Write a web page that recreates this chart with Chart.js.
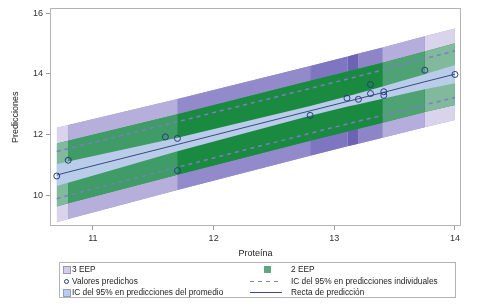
<!DOCTYPE html>
<html lang="es">
<head>
  <meta charset="UTF-8" />
  <title>Predicciones frente a Proteína</title>
  <script src="https://cdn.jsdelivr.net/npm/chart.js"></script>
  <style>
    body {
      margin: 0;
      background: #fff;
      font-family: 'Liberation Sans', Arial, sans-serif;
    }
    .wrap {
      position: relative;
      width: 480px;
      height: 308px;
    }
    .legend {
      position: absolute;
      left: 59px;
      top: 262px;
      width: 395px;
      height: 34px;
      border: 1px solid #b4b4b4;
      font-size: 8.3px;
      color: #222;
    }
    .item {
      position: absolute;
      height: 11px;
      line-height: 11px;
      white-space: nowrap;
    }
    .sym {
      position: absolute;
      box-sizing: border-box;
    }
    .txt {
      position: absolute;
      top: 0;
    }
  </style>
</head>
<body>
  <div class="wrap">
    <canvas id="fitChart"></canvas>
    <div class="legend">
      <div class="item" style="left:0;top:1px">
        <span class="sym" style="left:3px;top:2px;width:8px;height:8px;background:#d3cdea;border:1px solid #9a96b8"></span>
        <span class="txt" style="left:12px">3 EEP</span>
      </div>
      <div class="item" style="left:0;top:1px">
        <span class="sym" style="left:204px;top:2px;width:7px;height:7px;background:#5fa882"></span>
        <span class="txt" style="left:231px">2 EEP</span>
      </div>
      <div class="item" style="left:0;top:12.5px">
        <span class="sym" style="left:4px;top:3px;width:5px;height:5px;border:1px solid #2a3a80;border-radius:50%"></span>
        <span class="txt" style="left:12px">Valores predichos</span>
      </div>
      <div class="item" style="left:0;top:12.5px">
        <svg class="sym" style="left:190px;top:0" width="32" height="11"><line x1="0" y1="5.5" x2="32" y2="5.5" stroke="#7f7acb" stroke-width="1" stroke-dasharray="4 4"/></svg>
        <span class="txt" style="left:231px">IC del 95% en predicciones individuales</span>
      </div>
      <div class="item" style="left:0;top:24px">
        <span class="sym" style="left:3px;top:2px;width:8px;height:8px;background:#b9cdeb;border:1px solid #8ea0c4"></span>
        <span class="txt" style="left:12px">IC del 95% en predicciones del promedio</span>
      </div>
      <div class="item" style="left:0;top:24px">
        <svg class="sym" style="left:190px;top:0" width="32" height="11"><line x1="0" y1="5.5" x2="32" y2="5.5" stroke="#3b4a7c" stroke-width="1"/></svg>
        <span class="txt" style="left:231px">Recta de predicción</span>
      </div>
    </div>
  </div>

  <script>
  // ticks
  const xTicks = [11, 12, 13, 14];
  const yTicks = [10, 12, 14, 16];

  // observed points (Proteína, Predicciones)
  const protein = [10.70, 10.795, 11.60, 11.70, 11.70, 12.80, 13.105, 13.20, 13.30, 13.30, 13.41, 13.41, 13.75, 14.00];
  const predicted = [10.63, 11.15, 11.92, 11.87, 10.81, 12.63, 13.20, 13.16, 13.65, 13.35, 13.41, 13.29, 14.12, 13.98];

  // band break points and limits
  const bandX = [10.70, 10.795, 11.70, 12.80, 13.11, 13.20, 13.40, 13.75, 14.00];
  const fitLine = [10.66, 10.76, 11.67, 12.78, 13.09, 13.18, 13.38, 13.74, 13.99];
  const eep3Upper = [12.22, 12.31, 13.17, 14.26, 14.57, 14.67, 14.87, 15.24, 15.50];
  const eep3Lower = [9.10, 9.21, 10.17, 11.30, 11.61, 11.69, 11.89, 12.24, 12.48];
  const eep2Upper = [11.70, 11.79, 12.67, 13.77, 14.08, 14.17, 14.37, 14.74, 15.01];
  const eep2Lower = [9.62, 9.73, 10.67, 11.79, 12.10, 12.19, 12.39, 12.74, 12.97];
  const piUpper = [11.44, 11.53, 12.42, 13.52, 13.83, 13.92, 14.13, 14.50, 14.76];
  const piLower = [9.88, 9.99, 10.92, 12.04, 12.35, 12.44, 12.63, 12.98, 13.22];
  const ciUpper = [11.02, 11.11, 11.89, 12.94, 13.26, 13.36, 13.58, 13.99, 14.29];
  const ciLower = [10.30, 10.41, 11.45, 12.62, 12.92, 13.00, 13.18, 13.49, 13.69];

  // shading of each band segment (overlap gets darker)
  const purpleShades = ['#d9d4ec', '#b6aedb', '#928aca', '#7e76c0', '#6c63b5', '#8d85c8', '#b5addb', '#d9d4ec'];
  const greenShades = ['#80b99c', '#3f9c66', '#198a3f', '#198a3f', '#198a3f', '#198a3f', '#4ea273', '#80b99c'];

  function pts(xs, ys, from, to) {
    const out = [];
    for (let i = from; i <= to; i++) out.push({ x: xs[i], y: ys[i] });
    return out;
  }

  // group consecutive segments with the same shade
  function runs(shades) {
    const out = [];
    let s = 0;
    for (let i = 1; i <= shades.length; i++) {
      if (i === shades.length || shades[i] !== shades[s]) {
        out.push({ from: s, to: i, color: shades[s] });
        s = i;
      }
    }
    return out;
  }

  const base = { pointRadius: 0, borderWidth: 0, tension: 0 };
  const last = bandX.length - 1;

  function pair(upper, lower, from, to, color) {
    return [
      { ...base, data: pts(bandX, upper, from, to), fill: '+1', backgroundColor: color, borderColor: 'transparent' },
      { ...base, data: pts(bandX, lower, from, to), fill: false, borderColor: 'transparent' }
    ];
  }

  // segments on top, plus a whole-band layer underneath so the joins don't show white
  function bandSets(upper, lower, shades, under) {
    const sets = [];
    runs(shades).forEach(r => sets.push(...pair(upper, lower, r.from, r.to, r.color)));
    if (under) sets.push(...pair(upper, lower, 0, last, under));
    return sets;
  }

  // first dataset is drawn on top
  const datasets = [
    {
      data: pts(protein, predicted, 0, protein.length - 1),
      showLine: false,
      pointRadius: 3,
      pointBorderWidth: 1,
      pointBorderColor: '#2a3a80',
      pointBackgroundColor: 'transparent'
    },
    { ...base, data: pts(bandX, fitLine, 0, last), borderWidth: 1, borderColor: '#3b4a7c', fill: false },
    { ...base, data: pts(bandX, piUpper, 0, last), borderWidth: 1.5, borderColor: '#7f7acb', borderDash: [4, 4], fill: false },
    { ...base, data: pts(bandX, piLower, 0, last), borderWidth: 1.5, borderColor: '#7f7acb', borderDash: [4, 4], fill: false },
    ...pair(ciUpper, ciLower, 0, last, '#b9cdeb'),
    ...bandSets(eep2Upper, eep2Lower, greenShades, '#2f9455'),
    ...bandSets(eep3Upper, eep3Lower, purpleShades, '#a49cd2')
  ];

  const frame = {
    id: 'frame',
    afterDatasetsDraw(chart) {
      const { ctx, chartArea: a } = chart;
      ctx.save();
      ctx.strokeStyle = '#b4b4b4';
      ctx.lineWidth = 1;
      ctx.strokeRect(Math.round(a.left) + 0.5, Math.round(a.top) + 0.5, Math.round(a.width) - 1, Math.round(a.height) - 1);
      ctx.restore();
    }
  };

  const tickFont = { family: "'Liberation Sans', Arial, sans-serif", size: 9 };
  const gridOpts = { drawOnChartArea: false, drawTicks: true, tickLength: 4, color: '#9a9a9a' };

  new Chart(document.getElementById('fitChart'), {
    type: 'line',
    data: { datasets },
    options: {
      responsive: true,
      maintainAspectRatio: false,
      animation: false,
      events: [],
      layout: { padding: { left: 0, right: 19, top: 8, bottom: 46 } },
      plugins: { legend: { display: false }, tooltip: { enabled: false } },
      scales: {
        x: {
          type: 'linear',
          min: 10.644,
          max: 14.05,
          afterBuildTicks: s => { s.ticks = xTicks.map(v => ({ value: v })); },
          afterFit: s => { s.height = 36; },
          ticks: { font: tickFont, color: '#333', padding: 3, maxRotation: 0 },
          grid: gridOpts,
          border: { display: false },
          title: { display: true, text: 'Proteína', font: tickFont, color: '#222', padding: { top: 0, bottom: 3 } }
        },
        y: {
          min: 8.98,
          max: 16.16,
          afterBuildTicks: s => { s.ticks = yTicks.map(v => ({ value: v })); },
          afterFit: s => { s.width = 50; },
          ticks: { font: tickFont, color: '#333', padding: 3 },
          grid: gridOpts,
          border: { display: false },
          title: { display: true, text: 'Predicciones', font: tickFont, color: '#222', padding: { top: 10, bottom: 0 } }
        }
      }
    },
    plugins: [frame]
  });
  </script>
</body>
</html>
